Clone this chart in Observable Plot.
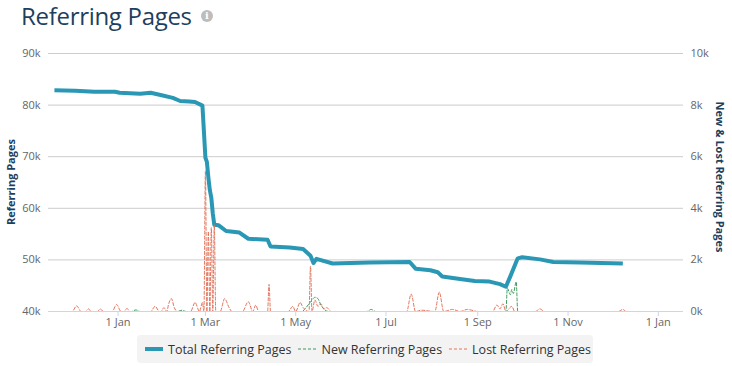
<!DOCTYPE html>
<html>
<head>
<meta charset="utf-8">
<script src="https://cdn.jsdelivr.net/npm/d3@7"></script>
<script src="https://cdn.jsdelivr.net/npm/@observablehq/plot@0.6"></script>
<style>
  html, body { margin: 0; padding: 0; background: #fff; }
  body { width: 732px; height: 366px; position: relative; overflow: hidden; font-family: "Open Sans", sans-serif; }
  #title { position: absolute; left: 21px; top: 0px; font-size: 24px; line-height: 32px; color: #1d3f5e; letter-spacing: -0.3px; white-space: nowrap; }
  #info { position: absolute; left: 201px; top: 10px; width: 12px; height: 12px; border-radius: 50%; background: #bdbdbd; color: #fff; font-size: 10px; font-weight: bold; line-height: 12px; text-align: center; font-family: "DejaVu Serif", serif; }
  #chart { position: absolute; left: 0; top: 35px; }
  .ylab { position: absolute; transform: translate(-50%, -50%) rotate(-90deg); font-size: 11px; font-weight: bold; color: #1d3f5e; white-space: nowrap; }
  .ylab.right { transform: translate(-50%, -50%) rotate(90deg); }
  #legend { position: absolute; left: 137px; top: 335px; width: 456px; height: 28px; background: #f3f3f3; border-radius: 4px; display: flex; align-items: center; font-size: 12.5px; color: #333; }
  .item { display: flex; align-items: center; white-space: nowrap; }
  .item svg { margin-right: 5px; }
</style>
</head>
<body>
<div id="title">Referring Pages</div>
<div id="info">i</div>
<div id="chart"></div>
<div class="ylab" style="left:10px; top:182px;">Referring Pages</div>
<div class="ylab right" style="left:720px; top:177px;">New &amp; Lost Referring Pages</div>
<div id="legend"></div>
<script>
// ---- data ----
const totalDates = ["2018-11-19","2018-12-03","2018-12-16","2018-12-30","2019-01-02","2019-01-16","2019-01-23","2019-01-29","2019-02-07","2019-02-12",
  "2019-02-18","2019-02-22","2019-02-27","2019-03-01","2019-03-02","2019-03-03","2019-03-04","2019-03-05","2019-03-06","2019-03-07",
  "2019-03-10","2019-03-15","2019-03-24","2019-03-30","2019-04-12","2019-04-14","2019-04-27","2019-05-06","2019-05-11","2019-05-13",
  "2019-05-15","2019-05-26","2019-06-20","2019-07-17","2019-07-21","2019-07-31","2019-08-05","2019-08-08","2019-08-20","2019-08-30",
  "2019-09-09","2019-09-16","2019-09-20","2019-09-23","2019-09-28","2019-10-01","2019-10-13","2019-10-22","2019-11-09","2019-12-08"];
const totalValues = [82900,82800,82600,82600,82400,82200,82400,82000,81400,80800,
  80700,80600,79900,69800,69000,66000,63500,62000,59000,56800,
  56700,55600,55300,54100,53900,52600,52400,52100,50800,49400,
  50200,49300,49500,49600,48300,48000,47600,46800,46300,45900,
  45800,45300,44800,46800,50300,50500,50100,49600,49500,49300];

const lostDates = ["2018-11-19","2018-12-01","2018-12-04","2018-12-07","2018-12-10","2018-12-12","2018-12-14","2018-12-18","2018-12-20","2018-12-22",
  "2018-12-28","2018-12-31","2019-01-03","2019-01-05","2019-01-07","2019-01-09","2019-01-23","2019-01-26","2019-01-29","2019-01-30",
  "2019-02-01","2019-02-03","2019-02-04","2019-02-06","2019-02-08","2019-02-10","2019-02-19","2019-02-22","2019-02-25","2019-02-27",
  "2019-02-28","2019-03-01","2019-03-02","2019-03-03","2019-03-04","2019-03-05","2019-03-06","2019-03-07","2019-03-08","2019-03-11",
  "2019-03-14","2019-03-17","2019-03-19","2019-03-26","2019-03-30","2019-04-02","2019-04-04","2019-04-06","2019-04-12","2019-04-13",
  "2019-04-14","2019-04-26","2019-04-29","2019-05-01","2019-05-04","2019-05-06","2019-05-10","2019-05-11","2019-05-12","2019-05-14",
  "2019-05-16","2019-05-18","2019-05-20","2019-05-22","2019-05-25","2019-07-15","2019-07-18","2019-07-21","2019-07-25","2019-08-03",
  "2019-08-06","2019-08-09","2019-08-15","2019-08-20","2019-08-25","2019-09-01","2019-09-11","2019-09-14","2019-09-16","2019-09-18",
  "2019-09-20","2019-09-24","2019-09-26","2019-10-10","2019-10-13","2019-10-16","2019-12-05","2019-12-08","2019-12-10"];
const lostValues = [0,0,220,0,0,100,0,0,100,0,
  0,270,0,0,120,0,0,200,0,0,
  150,0,250,500,150,0,0,350,0,350,
  0,5450,0,3100,0,3250,0,3350,0,0,
  500,150,0,0,380,0,250,0,0,1050,
  0,0,200,0,350,150,0,1750,0,450,
  200,300,100,150,0,0,680,0,50,0,
  750,0,80,0,80,0,0,250,100,300,
  0,200,0,0,100,0,0,80,0];

const newDates = ["2018-11-19","2019-01-10","2019-01-13","2019-01-16","2019-02-10","2019-02-13","2019-02-16","2019-05-05","2019-05-08","2019-05-10",
  "2019-05-12","2019-05-14","2019-05-16","2019-05-18","2019-05-20","2019-05-23","2019-06-18","2019-06-21","2019-06-24","2019-09-20",
  "2019-09-21","2019-09-23","2019-09-24","2019-09-25","2019-09-27","2019-09-28","2019-12-10"];
const newValues = [0,0,60,0,0,50,0,0,150,300,
  450,550,500,250,100,0,0,80,0,0,
  900,650,850,700,1150,0,0];

const leftTicks = [40000,50000,60000,70000,80000,90000];
const rightTicks = [0,2000,4000,6000,8000,10000];
const xTickDates = ["2019-01-01","2019-03-01","2019-05-01","2019-07-01","2019-09-01","2019-11-01","2020-01-01"];

// ---- build tables ----
const parse = d3.utcParse("%Y-%m-%d");
const total = totalDates.map((d, i) => ({date: parse(d), value: totalValues[i]}));
const lost = lostDates.map((d, i) => ({date: parse(d), value: lostValues[i]}));
const gained = newDates.map((d, i) => ({date: parse(d), value: newValues[i]}));

// secondary (right) axis: 0..10k mapped onto 40k..90k of the primary scale
const toLeft = v => 40000 + v * 5;
const fromLeft = v => (v - 40000) / 5;

const colTotal = "#2a98b5", colNew = "#3f9a5e", colLost = "#e2765e";

const chart = Plot.plot({
  width: 732,
  height: 300,
  marginLeft: 48,
  marginRight: 49,
  marginTop: 18,
  marginBottom: 24,
  style: {fontFamily: "'Open Sans', sans-serif", fontSize: "11px", color: "#666", background: "transparent"},
  x: {type: "utc", domain: [parse("2018-11-15"), parse("2020-01-18")]},
  y: {domain: [40000, 90000]},
  marks: [
    Plot.gridY({ticks: leftTicks, stroke: "#cccccc", strokeOpacity: 1}),
    Plot.axisY({ticks: leftTicks, anchor: "left", tickSize: 0, tickPadding: 8, tickFormat: d => d / 1000 + "k", label: null, fill: "#666"}),
    Plot.axisY({ticks: rightTicks.map(toLeft), anchor: "right", tickSize: 0, tickPadding: 7, tickFormat: d => fromLeft(d) / 1000 + "k", label: null, fill: "#666"}),
    Plot.axisX({ticks: xTickDates.map(parse), tickFormat: d3.utcFormat("%-d %b"), tickSize: 5, tickPadding: 2, stroke: "#ccd6eb", fill: "#666", label: null}),
    Plot.line(total, {x: "date", y: "value", stroke: colTotal, strokeWidth: 4, strokeLinejoin: "round", strokeLinecap: "butt"}),
    Plot.line(gained, {x: "date", y: d => toLeft(d.value), stroke: colNew, strokeWidth: 1, strokeDasharray: "3,2", curve: "monotone-x"}),
    Plot.line(lost, {x: "date", y: d => toLeft(d.value), stroke: colLost, strokeWidth: 1, strokeDasharray: "3,2", curve: "monotone-x"}),
    Plot.ruleY([40000], {stroke: "#ccd6eb", strokeWidth: 1})
  ]
});
document.getElementById("chart").appendChild(chart);

// ---- legend ----
const legendItems = [
  {label: "Total Referring Pages", color: colTotal, width: 4, dash: null},
  {label: "New Referring Pages", color: colNew, width: 1.2, dash: "3,2"},
  {label: "Lost Referring Pages", color: colLost, width: 1.2, dash: "3,2"}
];
const legend = d3.select("#legend");
legendItems.forEach((it, i) => {
  const item = legend.append("div").attr("class", "item").style("margin-left", i === 0 ? "8px" : "7px");
  const svg = item.append("svg").attr("width", 18).attr("height", 10);
  svg.append("line").attr("x1", 0).attr("x2", 18).attr("y1", 5).attr("y2", 5)
    .attr("stroke", it.color).attr("stroke-width", it.width).attr("stroke-dasharray", it.dash);
  item.append("span").text(it.label);
});
</script>
</body>
</html>
